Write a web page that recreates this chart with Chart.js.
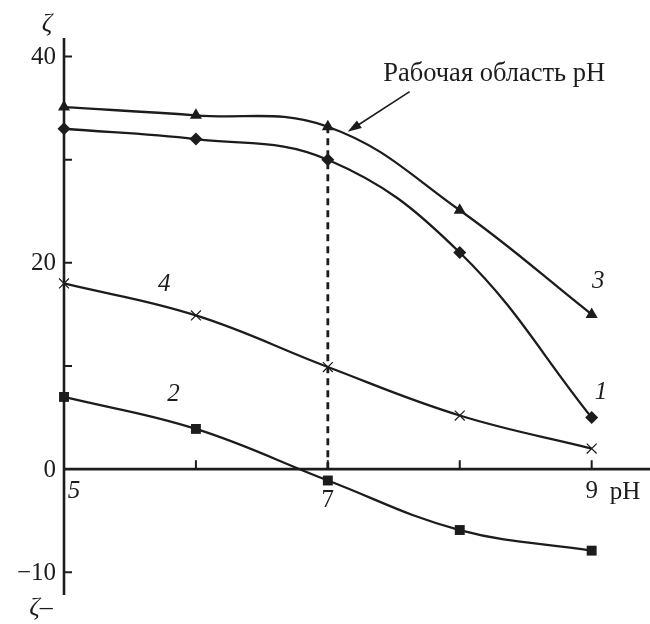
<!DOCTYPE html>
<html>
<head>
<meta charset="utf-8">
<script src="https://cdn.jsdelivr.net/npm/chart.js@4.4.1/dist/chart.umd.min.js"></script>
<style>
  body { margin: 0; background: #fff; }
</style>
</head>
<body>
<canvas id="chart" width="650" height="624"></canvas>
<script>
// data
const phValues = [5, 6, 7, 8, 9];
const curve1 = [33, 32, 30, 21, 5];          // diamonds
const curve2 = [7, 3.9, -1.1, -5.9, -7.9];   // squares
const curve3 = [35.1, 34.3, 33.2, 25.1, 15]; // triangles
const curve4 = [18, 14.9, 9.9, 5.2, 2];      // crosses
const workingPh = 7;

const xTicks = [6, 7, 8, 9];
const xTickLabels = ["5", "7", "9"];
const xTickLabelValues = [5, 7, 9];
const yTicks = [40, 30, 20, 10, -10];
const yTickLabels = ["40", "20", "0", "\u221210"];
const yTickLabelValues = [40, 20, 0, -10];
const curveNames = ["1", "2", "3", "4"];
const annotationText = "Рабочая область pH";

const ink = "#1c1c1c";
const serif = '"Liberation Serif", "Times New Roman", serif';

const toPoints = (ys) => phValues.map((x, i) => ({ x: x, y: ys[i] }));

const lineSet = (ys, style, radius) => ({
  data: toPoints(ys),
  borderColor: ink,
  backgroundColor: ink,
  borderWidth: 2.3,
  tension: 0.4,
  pointStyle: style,
  pointRadius: radius,
  pointBorderWidth: style === "crossRot" ? 1.2 : 0,
  pointBorderColor: ink,
  clip: false,
});

const axesPlugin = {
  id: "axesPlugin",
  beforeDatasetsDraw(chart) {
    const ctx = chart.ctx;
    const xs = chart.scales.x;
    const ys = chart.scales.y;
    const area = chart.chartArea;
    const x0 = xs.getPixelForValue(5);
    const y0 = ys.getPixelForValue(0);
    ctx.save();
    ctx.strokeStyle = ink;
    ctx.lineWidth = 2.6;
    ctx.beginPath();
    ctx.moveTo(x0, area.top);
    ctx.lineTo(x0, area.bottom);
    ctx.moveTo(x0, y0);
    ctx.lineTo(650, y0);
    ctx.stroke();
    ctx.lineWidth = 2;
    ctx.beginPath();
    yTicks.forEach((v) => {
      const p = ys.getPixelForValue(v);
      ctx.moveTo(x0, p);
      ctx.lineTo(x0 + 8, p);
    });
    xTicks.forEach((v) => {
      const p = xs.getPixelForValue(v);
      ctx.moveTo(p, y0);
      ctx.lineTo(p, y0 - 9);
    });
    ctx.stroke();
    ctx.restore();
  },
  afterDraw(chart) {
    const ctx = chart.ctx;
    const xs = chart.scales.x;
    const ys = chart.scales.y;
    const x0 = xs.getPixelForValue(5);
    const y0 = ys.getPixelForValue(0);
    ctx.save();
    ctx.fillStyle = ink;
    ctx.strokeStyle = ink;
    ctx.font = "25px " + serif;
    ctx.textBaseline = "middle";
    ctx.textAlign = "right";
    yTickLabels.forEach((t, i) => {
      ctx.fillText(t, x0 - 8, ys.getPixelForValue(yTickLabelValues[i]) + 1);
    });
    ctx.textAlign = "center";
    xTickLabels.forEach((t, i) => {
      const v = xTickLabelValues[i];
      let px = xs.getPixelForValue(v);
      let py = y0 + 22;
      if (v === 5) { ctx.font = "italic 25px " + serif; px += 10; }
      else ctx.font = "25px " + serif;
      if (v === 7) py = y0 + 31;
      ctx.fillText(t, px, py);
    });
    ctx.font = "25px " + serif;
    ctx.textAlign = "left";
    ctx.fillText("pH", xs.getPixelForValue(9) + 18, y0 + 23);
    ctx.font = "italic 26px " + serif;
    ctx.textAlign = "center";
    ctx.fillText("\u03b6", x0 - 17, 24);
    ctx.fillText("\u03b6\u2013", x0 - 23, ys.getPixelForValue(-13.5));

    // curve numbers
    const labelPos = [[9.07, 7.4], [5.83, 7.2], [9.05, 18.2], [5.76, 17.9]];
    ctx.font = "italic 25px " + serif;
    curveNames.forEach((t, i) => {
      ctx.fillText(t, xs.getPixelForValue(labelPos[i][0]), ys.getPixelForValue(labelPos[i][1]));
    });

    // annotation with arrow, sized to the reference width
    ctx.font = "22px " + serif;
    const w = ctx.measureText(annotationText).width;
    const size = 22 * 222 / w;
    ctx.font = size.toFixed(1) + "px " + serif;
    ctx.textAlign = "left";
    ctx.fillText(annotationText, xs.getPixelForValue(7.42), ys.getPixelForValue(38.3));
    const tx = xs.getPixelForValue(7.62), ty = ys.getPixelForValue(36.6);
    const hx = xs.getPixelForValue(7.15), hy = ys.getPixelForValue(32.7);
    const ang = Math.atan2(hy - ty, hx - tx);
    ctx.lineWidth = 1.6;
    ctx.beginPath();
    ctx.moveTo(tx, ty);
    ctx.lineTo(hx - 8 * Math.cos(ang), hy - 8 * Math.sin(ang));
    ctx.stroke();
    ctx.beginPath();
    ctx.moveTo(hx, hy);
    ctx.lineTo(hx - 14 * Math.cos(ang) + 4.5 * Math.sin(ang), hy - 14 * Math.sin(ang) - 4.5 * Math.cos(ang));
    ctx.lineTo(hx - 14 * Math.cos(ang) - 4.5 * Math.sin(ang), hy - 14 * Math.sin(ang) + 4.5 * Math.cos(ang));
    ctx.closePath();
    ctx.fill();
    ctx.restore();
  },
};

new Chart(document.getElementById("chart"), {
  type: "line",
  data: {
    datasets: [
      {
        data: [{ x: workingPh, y: 0 }, { x: workingPh, y: curve3[2] }],
        borderColor: ink,
        borderWidth: 2.8,
        borderDash: [7, 5],
        pointRadius: 0,
        tension: 0,
      },
      lineSet(curve1, "rectRot", 6.5),
      lineSet(curve2, "rect", 7),
      lineSet(curve3, "triangle", 7),
      lineSet(curve4, "crossRot", 7),
    ],
  },
  options: {
    responsive: false,
    devicePixelRatio: 1,
    animation: false,
    layout: { padding: { left: 64, top: 38, right: 0, bottom: 29 } },
    plugins: { legend: { display: false }, tooltip: { enabled: false } },
    scales: {
      x: { type: "linear", min: 5, max: 9.38, display: false },
      y: { type: "linear", min: -12.2, max: 41.8, display: false },
    },
  },
  plugins: [axesPlugin],
});
</script>
</body>
</html>
